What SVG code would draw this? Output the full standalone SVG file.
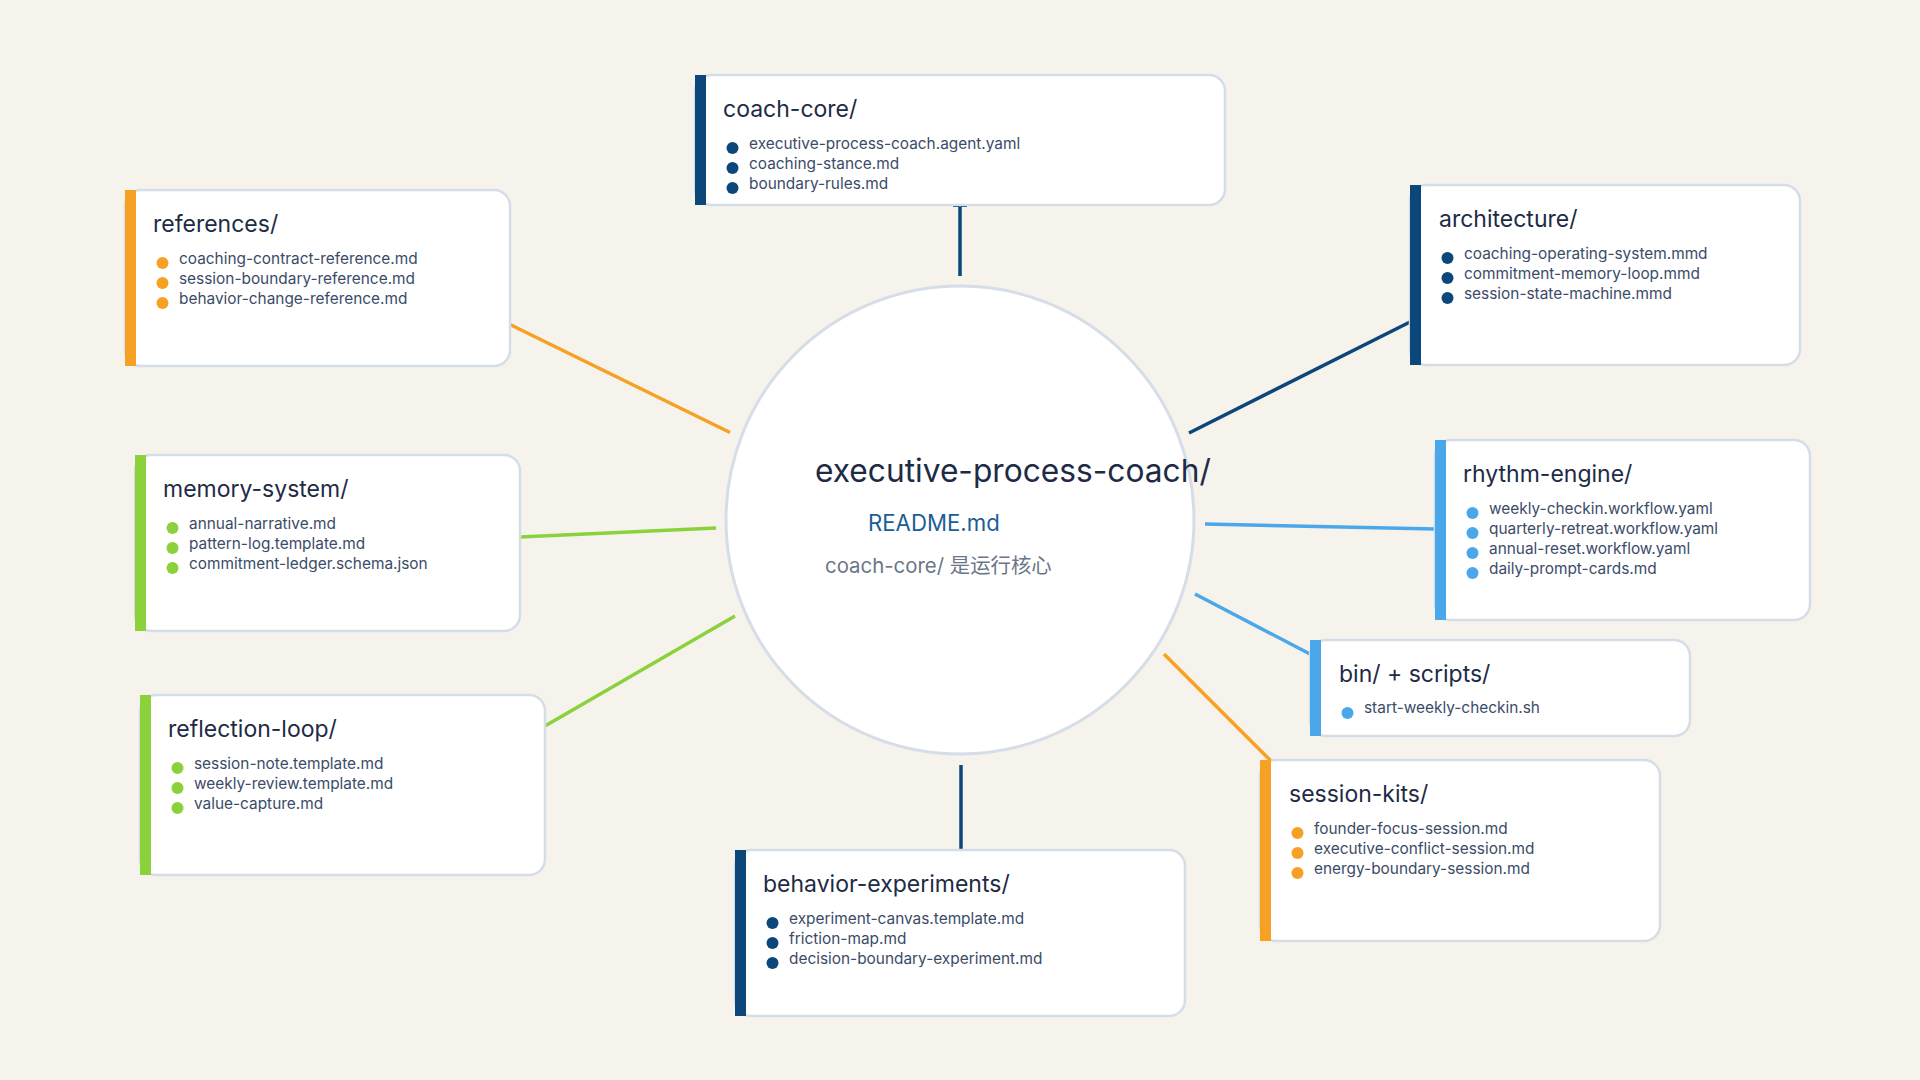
<svg xmlns="http://www.w3.org/2000/svg" width="1920" height="1080" viewBox="0 0 1920 1080">
<style>
.bg{fill:#f6f3ec}
.box{fill:#ffffff;stroke:#d5dde8;stroke-width:2.5}
.ttl{font-family:Inter,"Noto Sans CJK SC",sans-serif;font-size:23px;fill:#1e2b45}
.itm{font-family:Inter,"Noto Sans CJK SC",sans-serif;font-size:15.4px;fill:#3b4b68}
.navy{fill:#0b477b}
.orange{fill:#f6a124}
.green{fill:#8bd13b}
.sky{fill:#4aa8ea}
.ln{fill:none;stroke-width:3.5;stroke-linecap:butt}
.ln-navy{stroke:#0b477b}
.ln-orange{stroke:#f6a124}
.ln-green{stroke:#8bd13b}
.ln-sky{stroke:#4aa8ea}
.hub{fill:#ffffff;stroke:#d5dde8;stroke-width:3}
.main{font-family:Inter,"Noto Sans CJK SC",sans-serif;font-size:31.7px;fill:#1e2b45}
.readme{font-family:Inter,"Noto Sans CJK SC",sans-serif;font-size:22.2px;fill:#1b5e96}
.sub{font-family:Inter,"Noto Sans CJK SC",sans-serif;font-size:20.4px;fill:#6b7588}
</style>
<rect class="bg" x="0" y="0" width="1920" height="1080"/>

<g id="connectors">
<line class="ln ln-navy" x1="960" y1="205" x2="960" y2="276"/>
<line class="ln-navy" x1="953" y1="206" x2="967" y2="206" stroke-width="2"/>
<line class="ln ln-navy" x1="961" y1="765" x2="961" y2="850"/>
<line class="ln ln-orange" x1="510" y1="324.5" x2="730" y2="432.5"/>
<line class="ln ln-green" x1="520" y1="537" x2="716" y2="528"/>
<line class="ln ln-green" x1="545" y1="726" x2="735" y2="616"/>
<line class="ln ln-navy" x1="1410" y1="322" x2="1189" y2="433"/>
<line class="ln ln-sky" x1="1205" y1="524" x2="1435" y2="529"/>
<line class="ln ln-sky" x1="1195" y1="594" x2="1310" y2="654"/>
<line class="ln ln-orange" x1="1164" y1="654" x2="1272" y2="762"/>
</g>

<g id="hub">
<circle class="hub" cx="960" cy="520" r="234"/>
<text class="main" x="815" y="482">executive-process-coach/</text>
<text class="readme" x="868" y="531">README.md</text>
<text class="sub" x="825" y="573">coach-core/ 是运行核心</text>
</g>

<g id="coach-core">
<rect class="box" x="695" y="75" width="530" height="130" rx="16"/>
<rect class="navy" x="695" y="75" width="11" height="130"/>
<text class="ttl" x="723" y="117">coach-core/</text>
<circle class="navy" cx="732.5" cy="148" r="6"/><text class="itm" x="749" y="149">executive-process-coach.agent.yaml</text>
<circle class="navy" cx="732.5" cy="168" r="6"/><text class="itm" x="749" y="169">coaching-stance.md</text>
<circle class="navy" cx="732.5" cy="188" r="6"/><text class="itm" x="749" y="189">boundary-rules.md</text>
</g>

<g id="references">
<rect class="box" x="125" y="190" width="385" height="176" rx="16"/>
<rect class="orange" x="125" y="190" width="11" height="176"/>
<text class="ttl" x="153" y="232">references/</text>
<circle class="orange" cx="162.5" cy="263" r="6"/><text class="itm" x="179" y="264">coaching-contract-reference.md</text>
<circle class="orange" cx="162.5" cy="283" r="6"/><text class="itm" x="179" y="284">session-boundary-reference.md</text>
<circle class="orange" cx="162.5" cy="303" r="6"/><text class="itm" x="179" y="304">behavior-change-reference.md</text>
</g>

<g id="architecture">
<rect class="box" x="1410" y="185" width="390" height="180" rx="16"/>
<rect class="navy" x="1410" y="185" width="11" height="180"/>
<text class="ttl" x="1439" y="227">architecture/</text>
<circle class="navy" cx="1447.5" cy="258" r="6"/><text class="itm" x="1464" y="259">coaching-operating-system.mmd</text>
<circle class="navy" cx="1447.5" cy="278" r="6"/><text class="itm" x="1464" y="279">commitment-memory-loop.mmd</text>
<circle class="navy" cx="1447.5" cy="298" r="6"/><text class="itm" x="1464" y="299">session-state-machine.mmd</text>
</g>

<g id="memory-system">
<rect class="box" x="135" y="455" width="385" height="176" rx="16"/>
<rect class="green" x="135" y="455" width="11" height="176"/>
<text class="ttl" x="163" y="497">memory-system/</text>
<circle class="green" cx="172.5" cy="528" r="6"/><text class="itm" x="189" y="529">annual-narrative.md</text>
<circle class="green" cx="172.5" cy="548" r="6"/><text class="itm" x="189" y="549">pattern-log.template.md</text>
<circle class="green" cx="172.5" cy="568" r="6"/><text class="itm" x="189" y="569">commitment-ledger.schema.json</text>
</g>

<g id="rhythm-engine">
<rect class="box" x="1435" y="440" width="375" height="180" rx="16"/>
<rect class="sky" x="1435" y="440" width="11" height="180"/>
<text class="ttl" x="1463" y="482">rhythm-engine/</text>
<circle class="sky" cx="1472.5" cy="513" r="6"/><text class="itm" x="1489" y="514">weekly-checkin.workflow.yaml</text>
<circle class="sky" cx="1472.5" cy="533" r="6"/><text class="itm" x="1489" y="534">quarterly-retreat.workflow.yaml</text>
<circle class="sky" cx="1472.5" cy="553" r="6"/><text class="itm" x="1489" y="554">annual-reset.workflow.yaml</text>
<circle class="sky" cx="1472.5" cy="573" r="6"/><text class="itm" x="1489" y="574">daily-prompt-cards.md</text>
</g>

<g id="reflection-loop">
<rect class="box" x="140" y="695" width="405" height="180" rx="16"/>
<rect class="green" x="140" y="695" width="11" height="180"/>
<text class="ttl" x="168" y="737">reflection-loop/</text>
<circle class="green" cx="177.5" cy="768" r="6"/><text class="itm" x="194" y="769">session-note.template.md</text>
<circle class="green" cx="177.5" cy="788" r="6"/><text class="itm" x="194" y="789">weekly-review.template.md</text>
<circle class="green" cx="177.5" cy="808" r="6"/><text class="itm" x="194" y="809">value-capture.md</text>
</g>

<g id="bin-scripts">
<rect class="box" x="1310" y="640" width="380" height="96" rx="16"/>
<rect class="sky" x="1310" y="640" width="11" height="96"/>
<text class="ttl" x="1339" y="682">bin/ + scripts/</text>
<circle class="sky" cx="1347.5" cy="713" r="6"/><text class="itm" x="1364" y="713">start-weekly-checkin.sh</text>
</g>

<g id="session-kits">
<rect class="box" x="1260" y="760" width="400" height="181" rx="16"/>
<rect class="orange" x="1260" y="760" width="11" height="181"/>
<text class="ttl" x="1289" y="802">session-kits/</text>
<circle class="orange" cx="1297.5" cy="833" r="6"/><text class="itm" x="1314" y="834">founder-focus-session.md</text>
<circle class="orange" cx="1297.5" cy="853" r="6"/><text class="itm" x="1314" y="854">executive-conflict-session.md</text>
<circle class="orange" cx="1297.5" cy="873" r="6"/><text class="itm" x="1314" y="874">energy-boundary-session.md</text>
</g>

<g id="behavior-experiments">
<rect class="box" x="735" y="850" width="450" height="166" rx="16"/>
<rect class="navy" x="735" y="850" width="11" height="166"/>
<text class="ttl" x="763" y="892">behavior-experiments/</text>
<circle class="navy" cx="772.5" cy="923" r="6"/><text class="itm" x="789" y="924">experiment-canvas.template.md</text>
<circle class="navy" cx="772.5" cy="943" r="6"/><text class="itm" x="789" y="944">friction-map.md</text>
<circle class="navy" cx="772.5" cy="963" r="6"/><text class="itm" x="789" y="964">decision-boundary-experiment.md</text>
</g>
</svg>
